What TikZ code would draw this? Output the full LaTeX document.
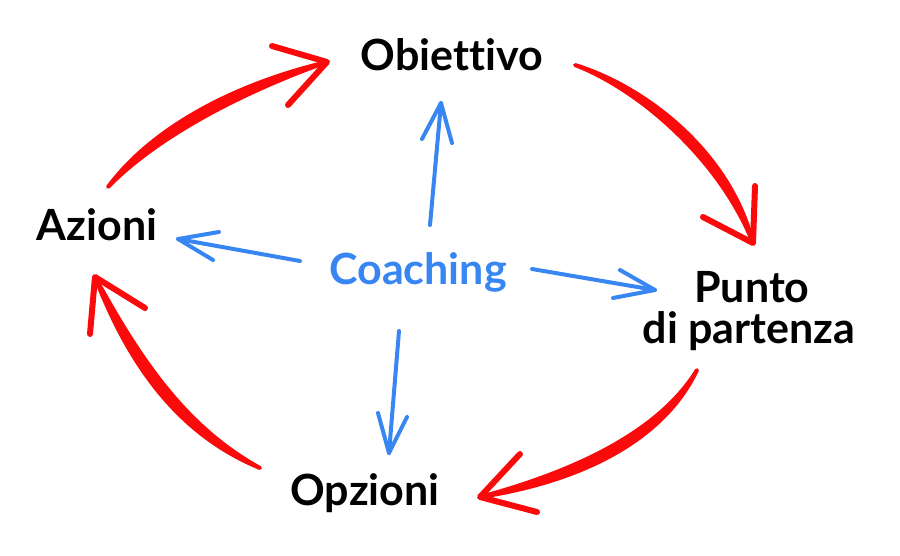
\documentclass[tikz,border=0pt]{standalone}
\usepackage{fontspec}
\setmainfont{Lato}[Ligatures={NoCommon}]
\definecolor{coachblue}{RGB}{56,134,242}
\definecolor{cyclered}{RGB}{250,10,10}
\tikzset{
  lbl/.style={font=\fontsize{43}{44}\selectfont\bfseries, text=black, inner sep=0pt, anchor=base},
  clbl/.style={lbl, text=coachblue},
  redshaft/.style={fill=cyclered, draw=cyclered, line width=4pt, line join=round, line cap=round},
  redhead/.style={draw=cyclered, line width=6pt, line join=round, line cap=round},
  blueline/.style={draw=coachblue, line width=4pt, line join=round, line cap=round}
}
\begin{document}
\begin{tikzpicture}[x=1pt,y=-1pt]
\useasboundingbox (0,0) rectangle (900,555);
% labels
\node[lbl] (obi) at (452,70) {Obiettivo};
\node[lbl] (azi) at (97,240) {Azioni};
\node[clbl] (coa) at (418,284) {Coaching};
\node[lbl] (pun) at (752,302) {Punto};
\node[lbl] (par) at (749,343) {di partenza};
\node[lbl] (opz) at (365,505) {Opzioni};
% red cycle coordinates
\coordinate (s1) at (108,187); \coordinate (t1) at (327,62);
\coordinate (h1a) at (272,46); \coordinate (h1b) at (288,105);
\coordinate (s2) at (575,65); \coordinate (t2) at (753,243);
\coordinate (h2a) at (755,186); \coordinate (h2b) at (703,217);
\coordinate (s3) at (697,370); \coordinate (t3) at (480,497);
\coordinate (h3a) at (520,454); \coordinate (h3b) at (537,512);
\coordinate (s4) at (260,468); \coordinate (t4) at (95,277);
\coordinate (h4a) at (145,308); \coordinate (h4b) at (90,334);
% red shafts (tapered)
\path[redshaft] (s1) .. controls (150,130) and (230,85) .. (t1)
   .. controls (235,95) and (155,139) .. (s1) -- cycle;
\draw[redhead] (h1a) -- (t1) -- (h1b);
\path[redshaft] (s2) .. controls (640,90) and (720,160) .. (t2)
   .. controls (730,151) and (644,86) .. (s2) -- cycle;
\draw[redhead] (h2a) -- (t2) -- (h2b);
\path[redshaft] (s3) .. controls (660,430) and (580,470) .. (t3)
   .. controls (585,481) and (665,438) .. (s3) -- cycle;
\draw[redhead] (h3a) -- (t3) -- (h3b);
\path[redshaft] (s4) .. controls (180,424) and (135,349) .. (t4)
   .. controls (125,355) and (172,432) .. (s4) -- cycle;
\draw[redhead] (h4a) -- (t4) -- (h4b);
% blue arrows
\coordinate (bu0) at (430,225); \coordinate (bu1) at (441,103);
\coordinate (bl0) at (300,261); \coordinate (bl1) at (178,239);
\coordinate (br0) at (532,269); \coordinate (br1) at (655,290);
\coordinate (bd0) at (399,331); \coordinate (bd1) at (389,453);
\draw[blueline] (bu0) -- (bu1);
\draw[blueline] (422,139) -- (bu1) -- (452,143);
\draw[blueline] (bl0) -- (bl1);
\draw[blueline] (219,232) -- (bl1) -- (213,260);
\draw[blueline] (br0) -- (br1);
\draw[blueline] (620,270) -- (br1) -- (613,298);
\draw[blueline] (bd0) -- (bd1);
\draw[blueline] (378,413) -- (bd1) -- (407,417);
\end{tikzpicture}
\end{document}
